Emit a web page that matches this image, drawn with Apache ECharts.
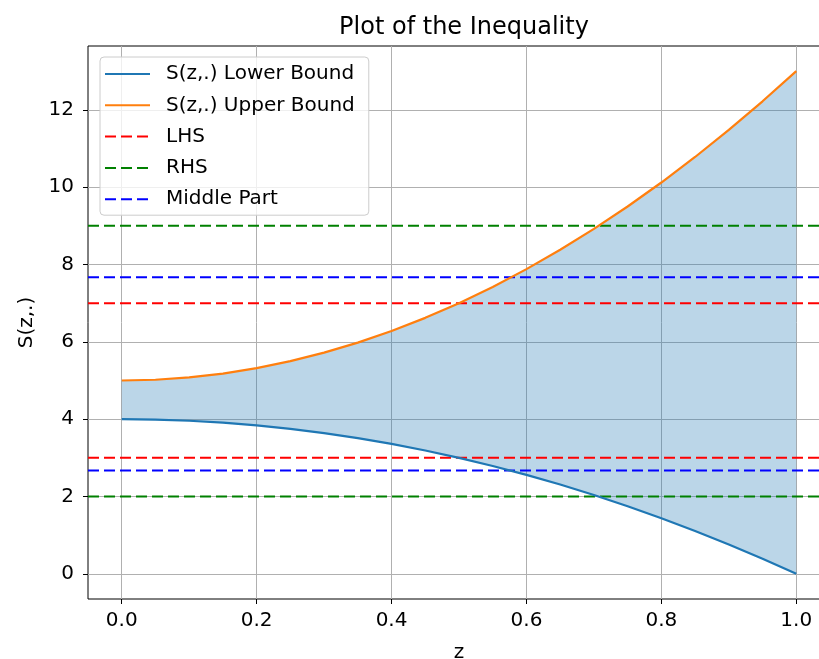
<!DOCTYPE html>
<html>
<head>
<meta charset="utf-8">
<script src="https://cdn.jsdelivr.net/npm/echarts@6/dist/echarts.min.js"></script>
<style>
  html, body { margin: 0; padding: 0; background: #fff; }
  #main { width: 819px; height: 659px; }
</style>
</head>
<body>
<div id="main"></div>
<script>
// z grid and the two bounds
var zValues = [0, 0.05, 0.1, 0.15, 0.2, 0.25, 0.3, 0.35, 0.4, 0.45, 0.5,
               0.55, 0.6, 0.65, 0.7, 0.75, 0.8, 0.85, 0.9, 0.95, 1];
var lowerBound = [4.00, 3.99, 3.96, 3.91, 3.84, 3.75, 3.64, 3.51, 3.36, 3.19, 3.00,
                  2.79, 2.56, 2.31, 2.04, 1.75, 1.44, 1.11, 0.76, 0.39, 0.00];
var upperBound = [5.00, 5.02, 5.08, 5.18, 5.32, 5.50, 5.72, 5.98, 6.28, 6.62, 7.00,
                  7.42, 7.88, 8.38, 8.92, 9.50, 10.12, 10.78, 11.48, 12.22, 13.00];

// horizontal reference levels
var lhsLevels = [7, 3];
var rhsLevels = [9, 2];
var middleLevels = [7.67, 2.67];

var xTicks = [0, 0.2, 0.4, 0.6, 0.8, 1.0];
var yTicks = [0, 2, 4, 6, 8, 10, 12];

var xMin = -0.05, xMax = 1.05;
var yMin = -0.65, yMax = 13.65;

var FONT = 'DejaVu Sans';

function pairs(ys) {
	return zValues.map(function(z, i) { return [z, ys[i]]; });
}

function hline(name, color, level) {
	return {
		name: name,
		type: 'line',
		data: [[xMin, level], [xMax, level]],
		symbol: 'none',
		lineStyle: { color: color, width: 2, type: [11, 5] },
		itemStyle: { color: color },
		z: 4
	};
}

var chart = echarts.init(document.getElementById('main'));

var series = [
	// shaded band between the bounds (fill_between)
	{
		name: 'band',
		type: 'custom',
		silent: true,
		data: [0],
		z: 1,
		renderItem: function(params, api) {
			var pts = [];
			zValues.forEach(function(z, i) { pts.push(api.coord([z, upperBound[i]])); });
			for (var i = zValues.length - 1; i >= 0; i--) {
				pts.push(api.coord([zValues[i], lowerBound[i]]));
			}
			return {
				type: 'polygon',
				shape: { points: pts },
				style: { fill: 'rgba(31,119,180,0.3)' }
			};
		}
	},
	{
		name: 'S(z,.) Lower Bound',
		type: 'line',
		data: pairs(lowerBound),
		symbol: 'none',
		lineStyle: { color: '#1f77b4', width: 2.2 },
		itemStyle: { color: '#1f77b4' },
		z: 5
	},
	{
		name: 'S(z,.) Upper Bound',
		type: 'line',
		data: pairs(upperBound),
		symbol: 'none',
		lineStyle: { color: '#ff7f0e', width: 2.2 },
		itemStyle: { color: '#ff7f0e' },
		z: 5
	}
];

lhsLevels.forEach(function(v) { series.push(hline('LHS', '#ff0000', v)); });
rhsLevels.forEach(function(v) { series.push(hline('RHS', '#008000', v)); });
middleLevels.forEach(function(v) { series.push(hline('Middle Part', '#0000ff', v)); });

var option = {
	animation: false,
	backgroundColor: '#ffffff',
	textStyle: { fontFamily: FONT },
	title: {
		text: 'Plot of the Inequality',
		left: 459,
		textAlign: 'center',
		top: 11,
		textStyle: { fontFamily: FONT, fontSize: 24, fontWeight: 'normal', color: '#000' }
	},
	legend: {
		orient: 'vertical',
		left: 100,
		top: 57,
		data: ['S(z,.) Lower Bound', 'S(z,.) Upper Bound', 'LHS', 'RHS', 'Middle Part'],
		itemWidth: 45,
		itemHeight: 20,
		itemGap: 11.3,
		padding: [7, 14, 6, 4],
		itemStyle: { opacity: 0 },
		backgroundColor: 'rgba(255,255,255,0.8)',
		borderColor: '#cccccc',
		borderWidth: 1,
		borderRadius: 4,
		textStyle: { fontFamily: FONT, fontSize: 20, color: '#000', lineHeight: 20, padding: [0, 0, 0, 11] },
		selectedMode: false
	},
	grid: {
		left: 88,
		top: 46,
		width: 742,
		height: 553,
		outerBoundsMode: 'none',
		show: true,
		backgroundColor: 'transparent',
		borderColor: '#000',
		borderWidth: 1
	},
	xAxis: {
		type: 'value',
		min: xMin,
		max: xMax,
		splitNumber: 5,
		name: 'z',
		nameLocation: 'middle',
		nameGap: 44,
		nameTextStyle: { fontFamily: FONT, fontSize: 20, color: '#000' },
		axisLine: { show: false, onZero: false },
		axisTick: { show: true, length: 5, lineStyle: { color: '#000' }, customValues: xTicks },
		axisLabel: {
			fontFamily: FONT, fontSize: 20, color: '#000', margin: 12,
			customValues: xTicks,
			formatter: function(v) { return v.toFixed(1); }
		},
		splitLine: { show: true, lineStyle: { color: '#b0b0b0', width: 1 } }
	},
	yAxis: {
		type: 'value',
		min: yMin,
		max: yMax,
		splitNumber: 7,
		name: 'S(z,.)',
		nameLocation: 'middle',
		nameGap: 51,
		nameTextStyle: { fontFamily: FONT, fontSize: 20, color: '#000' },
		axisLine: { show: false, onZero: false },
		axisTick: { show: true, length: 5, lineStyle: { color: '#000' }, customValues: yTicks },
		axisLabel: {
			fontFamily: FONT, fontSize: 20, color: '#000', margin: 14,
			customValues: yTicks,
			formatter: function(v) { return String(v); }
		},
		splitLine: { show: true, lineStyle: { color: '#b0b0b0', width: 1 } }
	},
	series: series
};

chart.setOption(option);
</script>
</body>
</html>
